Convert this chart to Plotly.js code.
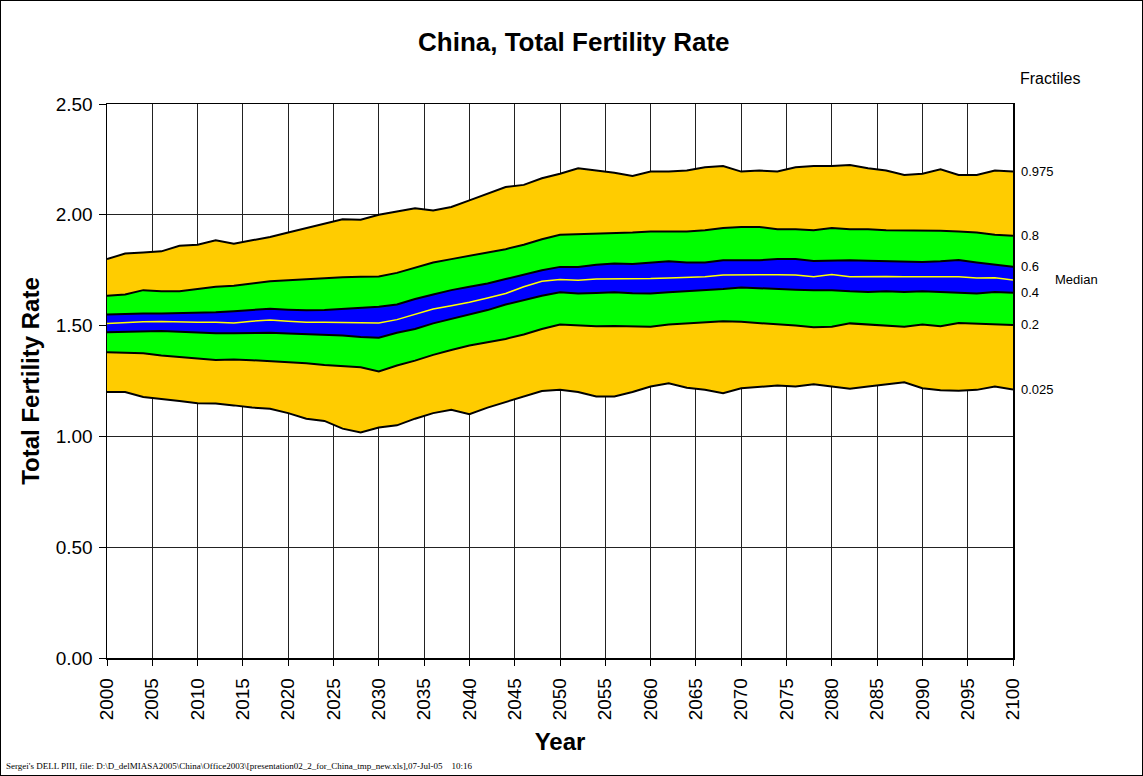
<!DOCTYPE html>
<html>
<head>
<meta charset="utf-8">
<script src="https://cdn.plot.ly/plotly-3.0.1.min.js"></script>
<style>
html,body{margin:0;padding:0;background:#fff;}
#frame{position:absolute;left:0;top:0;width:1143px;height:776px;box-sizing:border-box;border:1px solid #000;}
#chart{position:absolute;left:0;top:0;width:1143px;height:776px;}
</style>
</head>
<body>
<div id="chart"></div>
<div id="frame"></div>
<script>
// Years (every 2 years)
const years = [2000,2002,2004,2006,2008,2010,2012,2014,2016,2018,2020,2022,2024,2026,2028,2030,
  2032,2034,2036,2038,2040,2042,2044,2046,2048,2050,
  2052,2054,2056,2058,2060,2062,2064,2066,2068,2070,
  2072,2074,2076,2078,2080,2082,2084,2086,2088,2090,2092,2094,2096,2098,2100];

// Fractiles of Total Fertility Rate
const q975 = [1.80,1.825,1.83,1.835,1.86,1.865,1.885,1.87,1.885,1.90,1.92,1.94,1.96,1.98,1.978,2.00,
  2.015,2.03,2.02,2.035,2.065,2.095,2.125,2.135,2.165,2.185,
  2.21,2.20,2.19,2.175,2.195,2.195,2.20,2.215,2.22,2.195,
  2.20,2.195,2.215,2.22,2.22,2.225,2.21,2.20,2.18,2.185,2.205,2.18,2.18,2.20,2.195];
const q80 = [1.635,1.64,1.66,1.655,1.655,1.665,1.675,1.68,1.69,1.70,1.705,1.71,1.715,1.718,1.72,1.722,
  1.738,1.76,1.785,1.80,1.815,1.83,1.845,1.865,1.89,1.91,
  1.912,1.915,1.915,1.92,1.925,1.925,1.925,1.93,1.94,1.945,
  1.945,1.935,1.935,1.93,1.94,1.935,1.935,1.93,1.93,1.93,1.928,1.925,1.92,1.91,1.905];
const q60 = [1.55,1.553,1.555,1.555,1.556,1.558,1.56,1.565,1.57,1.576,1.572,1.569,1.57,1.575,1.58,1.585,
  1.595,1.62,1.64,1.66,1.675,1.69,1.71,1.73,1.75,1.765,
  1.765,1.775,1.78,1.778,1.785,1.79,1.785,1.785,1.795,1.795,
  1.795,1.80,1.80,1.792,1.795,1.795,1.793,1.79,1.788,1.787,1.79,1.796,1.785,1.775,1.765];
const median = [1.51,1.515,1.517,1.518,1.515,1.515,1.515,1.512,1.52,1.525,1.52,1.515,1.515,1.514,1.51,1.512,
  1.527,1.552,1.575,1.59,1.605,1.625,1.645,1.675,1.70,1.708,
  1.705,1.71,1.71,1.71,1.712,1.715,1.718,1.72,1.728,1.73,
  1.73,1.73,1.728,1.72,1.73,1.72,1.722,1.722,1.72,1.721,1.72,1.72,1.715,1.716,1.706];
const q40 = [1.47,1.473,1.475,1.476,1.472,1.468,1.466,1.465,1.466,1.468,1.464,1.461,1.46,1.455,1.448,1.445,
  1.468,1.485,1.51,1.53,1.55,1.57,1.595,1.615,1.635,1.65,
  1.645,1.647,1.65,1.646,1.645,1.65,1.655,1.657,1.665,1.672,
  1.668,1.665,1.662,1.66,1.66,1.655,1.652,1.655,1.652,1.655,1.652,1.648,1.645,1.652,1.648];
const q20 = [1.38,1.378,1.375,1.365,1.36,1.352,1.345,1.347,1.344,1.34,1.335,1.33,1.322,1.318,1.312,1.293,
  1.32,1.342,1.368,1.39,1.41,1.425,1.44,1.46,1.485,1.505,
  1.50,1.497,1.498,1.497,1.495,1.505,1.51,1.512,1.52,1.517,
  1.512,1.505,1.50,1.493,1.495,1.51,1.505,1.498,1.495,1.505,1.497,1.512,1.51,1.508,1.503];
const q025 = [1.20,1.20,1.178,1.17,1.16,1.15,1.148,1.14,1.13,1.125,1.105,1.08,1.07,1.035,1.018,1.04,
  1.05,1.08,1.105,1.12,1.10,1.13,1.155,1.18,1.205,1.21,
  1.20,1.18,1.18,1.20,1.225,1.24,1.22,1.21,1.195,1.217,
  1.225,1.23,1.225,1.235,1.225,1.215,1.225,1.235,1.244,1.217,1.208,1.206,1.21,1.225,1.212];

const fractileLabels = ['0.025','0.2','0.4','0.6','0.8','0.975'];
const ORANGE = '#FFCC00', GREEN = '#00FF00', BLUE = '#0000FF';

const series = [q025, q20, q40, q60, q80, q975];
const fills = [null, ORANGE, GREEN, BLUE, GREEN, ORANGE];

const traces = series.map((s, i) => ({
  x: years, y: s, type: 'scatter', mode: 'lines',
  line: {color: '#000', width: 2},
  fill: i === 0 ? 'none' : 'tonexty',
  fillcolor: fills[i] || undefined,
  hoverinfo: 'skip', showlegend: false
}));
traces.push({
  x: years, y: median, type: 'scatter', mode: 'lines',
  line: {color: '#FFFF00', width: 1.5},
  hoverinfo: 'skip', showlegend: false
});

const FONT = 'Liberation Sans, Arial, Helvetica, sans-serif';
const last = years[years.length - 1];

// pixel helpers for paper-anchored text
const L = 107, R = 1013, T = 104, B = 658;
function px2x(px){ return (px - L) / (R - L); }
function py2y(py){ return (B - py) / (B - T); }

const annotations = series.map((s, i) => ({
  x: last, y: s[s.length - 1], xref: 'x', yref: 'y',
  text: fractileLabels[i], showarrow: false,
  xanchor: 'left', yanchor: 'middle', xshift: 6,
  font: {family: FONT, size: 13, color: '#000'}
}));
annotations.push({
  x: last, y: median[median.length - 1], xref: 'x', yref: 'y',
  text: 'Median', showarrow: false, xanchor: 'left', yanchor: 'middle', xshift: 40,
  font: {family: FONT, size: 13, color: '#000'}
});
annotations.push({
  x: px2x(1050), y: py2y(78), xref: 'paper', yref: 'paper', text: 'Fractiles', showarrow: false,
  xanchor: 'center', yanchor: 'middle',
  font: {family: FONT, size: 16, color: '#000'}
});
annotations.push({
  text: "Sergei's DELL PIII, file: D:\\D_delMIASA2005\\China\\Office2003\\[presentation02_2_for_China_tmp_new.xls],07-Jul-05&nbsp;&nbsp;&nbsp;&nbsp;10:16",
  xref: 'paper', yref: 'paper', showarrow: false, xanchor: 'left', yanchor: 'middle',
  x: px2x(4), y: py2y(766), font: {family: 'Liberation Serif, Times New Roman, serif', size: 9, color: '#000'}
});

const layout = {
  width: 1143, height: 776,
  margin: {l: L, r: 1143 - R, t: T, b: 776 - B, pad: 0},
  paper_bgcolor: '#fff', plot_bgcolor: '#fff',
  font: {family: FONT, color: '#000'},
  title: {
    text: '<b>China, Total Fertility Rate</b>',
    font: {family: FONT, size: 26, color: '#000'},
    x: 0.502, xref: 'container', xanchor: 'center',
    y: 1 - 42 / 776, yref: 'container', yanchor: 'middle'
  },
  xaxis: {
    range: [2000, 2100], tick0: 2000, dtick: 5, tickangle: -90,
    showgrid: true, gridcolor: '#222', gridwidth: 1,
    showline: true, mirror: true, linecolor: '#000', linewidth: 1.5,
    ticks: 'outside', ticklen: 6, tickcolor: '#000',
    tickfont: {family: FONT, size: 19, color: '#000'},
    ticklabelstandoff: 5,
    zeroline: false,
    title: {text: '<b>Year</b>', font: {family: FONT, size: 24, color: '#000'}, standoff: 14}
  },
  yaxis: {
    range: [0, 2.5], dtick: 0.5, tickformat: '.2f',
    showgrid: true, gridcolor: '#222', gridwidth: 1,
    showline: true, mirror: true, linecolor: '#000', linewidth: 1.5,
    ticks: 'outside', ticklen: 7, tickcolor: '#000',
    tickfont: {family: FONT, size: 19, color: '#000'},
    ticklabelstandoff: 2,
    zeroline: false,
    title: {text: '<b>Total Fertility Rate</b>', font: {family: FONT, size: 24, color: '#000'}, standoff: 9}
  },
  annotations: annotations
};

Plotly.newPlot('chart', traces, layout, {displayModeBar: false, staticPlot: true});
</script>
</body>
</html>
